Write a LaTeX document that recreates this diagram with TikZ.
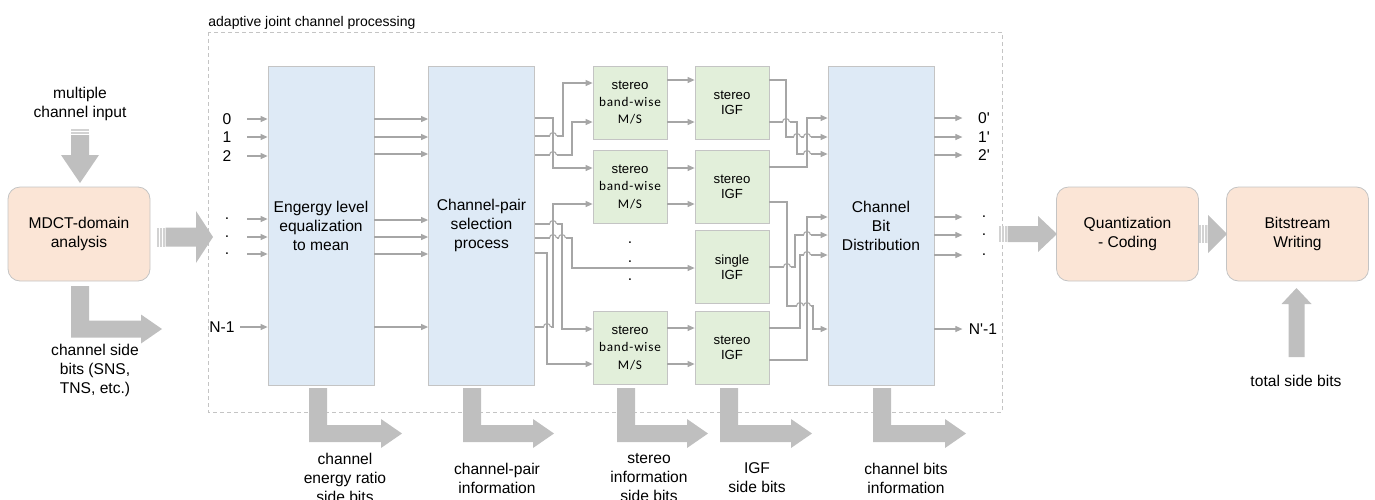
\documentclass[tikz,border=0pt]{standalone}
\usepackage{fontspec}
\setmainfont{Liberation Sans}
\newfontfamily\bandfont[LetterSpace=6]{Carlito}
\usetikzlibrary{arrows.meta}

\definecolor{blockblue}{HTML}{DEEAF6}
\definecolor{blockgreen}{HTML}{E2EFDA}
\definecolor{blockorange}{HTML}{FBE5D6}
\definecolor{rimgray}{HTML}{C4C4C4}
\definecolor{wiregray}{HTML}{A6A6A6}
\definecolor{fatgray}{HTML}{BFBFBF}

\tikzset{
  wire/.style={wiregray, line width=0.55pt, -{Triangle[length=3.5pt, width=3pt]}},
  tallbox/.style={draw=rimgray, fill=blockblue, minimum width=53pt, minimum height=159.5pt, align=center, inner sep=0pt},
  msbox/.style={draw=rimgray, fill=blockgreen, minimum width=37pt, minimum height=36.5pt, align=center, inner sep=0pt, font=\fontsize{6.6}{8.7}\selectfont},
  igfbox/.style={msbox, font=\fontsize{6.6}{7.6}\selectfont},
  stagebox/.style={draw=rimgray, fill=blockorange, rounded corners=6pt, minimum width=71pt, minimum height=47pt, align=center, inner sep=0pt},
  lbl/.style={align=center, inner sep=0pt},
}

% thick L shaped arrow for side bits: x, top, y of horizontal part, tip
\newcommand\bendarrow[4]{%
  \fill[fatgray] (#1,#2) -- (#1+18,#2) -- (#1+18,#3-8.5) -- (#4-21,#3-8.5)
    -- (#4-21,#3-14.5) -- (#4,#3) -- (#4-21,#3+14.5) -- (#4-21,#3+8.5)
    -- (#1,#3+8.5) -- cycle;}
% striped block arrow to the right: start, head, tip, y, shaft half, head half
\newcommand\stripearrow[6]{%
  \foreach \s in {0,3,6}
    \fill[fatgray!70] (#1+\s,#4-#5) rectangle (#1+\s+1.8,#4+#5);
  \fill[fatgray] (#1+8.5,#4-#5) -- (#2,#4-#5) -- (#2,#4-#6) -- (#3,#4)
    -- (#2,#4+#6) -- (#2,#4+#5) -- (#1+8.5,#4+#5) -- cycle;}
% wire hopping over a crossing wire
\newcommand\hop[2]{%
  \fill[white] (#1-3.5,#2-1.5) rectangle (#1+3.5,#2+1.5);
  \draw[wiregray, line width=0.55pt] (#1-3.5,#2) arc[start angle=180, end angle=0, radius=1.75pt];
  \draw[wiregray, line width=0.55pt] (#1,#2-4) -- (#1,#2+4);}

\begin{document}
\begin{tikzpicture}[x=0.5pt, y=-0.5pt, font=\fontsize{7.8}{9.5}\selectfont]
\useasboundingbox (0,0) rectangle (1375,499);

% joint processing frame
\draw[rimgray, dash pattern=on 2pt off 1.5pt, line width=0.5pt] (208,32) rectangle (1002,412);
\node[anchor=base west, inner sep=0pt, font=\fontsize{7}{8.5}\selectfont] (jointlbl) at (208,26) {adaptive joint channel processing};

% blocks
\node[stagebox] (mdct) at (79,234) {MDCT-domain\\analysis};
\node[tallbox] (energy) at (321,225.5) {Engergy level\\equalization\\to mean};
\node[tallbox] (cp) at (481.5,225.5) {Channel-pair\\selection\\process};
\node[msbox] (ms1) at (630,102.5) {stereo\\{\bandfont band-wise}\\{\bandfont M/S}};
\node[msbox] (ms2) at (630,187) {stereo\\{\bandfont band-wise}\\{\bandfont M/S}};
\node[msbox] (ms3) at (630,348) {stereo\\{\bandfont band-wise}\\{\bandfont M/S}};
\node[igfbox] (igf1) at (732,102.5) {stereo\\IGF};
\node[igfbox] (igf2) at (732,187) {stereo\\IGF};
\node[igfbox] (igfs) at (732,267) {single\\IGF};
\node[igfbox] (igf3) at (732,348) {stereo\\IGF};
\node[tallbox] (cbd) at (881,225.5) {Channel\\Bit\\Distribution};
\node[stagebox] (quant) at (1127.5,234) {Quantization\\- Coding};
\node[stagebox] (bits) at (1297.5,234) {Bitstream\\Writing};
\foreach \y [count=\k] in {243,262,280}
  \node[lbl] (msdot\k) at (630,\y) {.};

% channel inputs
\foreach \n/\t/\y in {in0/0/119, in1/1/137, in2/2/156, ind1/./219, ind2/./237, ind3/./254}
  \node[lbl] (\n) at (227,\y) {\t};
\node[lbl] (inN) at (222,327) {N-1};
\foreach \n in {in0,in1,in2,ind1,ind2,ind3}
  \draw[wire] (\n) ++(20,0) -- (energy.west |- \n);
\draw[wire] (inN) ++(18,0) -- (energy.west |- inN);
\foreach \y in {119,137,154,220,237,254,327}
  \draw[wire] (energy.east |- 0,\y) -- (cp.west |- 0,\y);

% pair selection
\draw[wire] (cp.east |- 0,118) -| (553,168) -- (ms2.west |- 0,168);
\draw[wire] (cp.east |- 0,136) -| (563,83) -- (ms1.west |- 0,83);
\draw[wire] (cp.east |- 0,155) -| (572,122) -- (ms1.west |- 0,122);
\draw[wire] (cp.east |- 0,224) -| (562,329) -- (ms3.west |- 0,329);
\draw[wire] (cp.east |- 0,238) -| (572,268) -- (igfs.west |- 0,268);
\draw[wire] (cp.east |- 0,253) -| (547,364) -- (ms3.west |- 0,364);
\draw[wire] (cp.east |- 0,327) -| (553,204) -- (ms2.west |- 0,204);
\foreach \m/\i/\y in {ms1/igf1/80, ms1/igf1/122, ms2/igf2/168, ms2/igf2/204, ms3/igf3/328, ms3/igf3/364}
  \draw[wire] (\m.east |- 0,\y) -- (\i.west |- 0,\y);

% back to channels
\draw[wire] (igf1.east |- 0,80) -| (786,137) -- (cbd.west |- 0,137);
\draw[wire] (igf1.east |- 0,122) -| (797,154) -- (cbd.west |- 0,154);
\draw[wire] (igf2.east |- 0,167) -| (807,118) -- (cbd.west |- 0,118);
\draw[wire] (igf2.east |- 0,202) -| (787,306) -| (813,329) -- (cbd.west |- 0,329);
\draw[wire] (igfs.east |- 0,267) -| (795,235) -- (cbd.west |- 0,235);
\draw[wire] (igf3.east |- 0,328) -| (800,255) -- (cbd.west |- 0,255);
\draw[wire] (igf3.east |- 0,360) -| (807,217) -- (cbd.west |- 0,217);
\foreach \hx/\hy in {553/136, 553/155, 553/224, 553/238, 562/238, 547/327,
    786/122, 797/137, 807/137, 807/154, 787/267, 807/235, 807/255, 800/306, 807/306}
  \hop{\hx}{\hy};

% channel outputs
\foreach \n/\t/\y in {out0/0\textquotesingle/118, out1/1\textquotesingle/137, out2/2\textquotesingle/155, outd1/./217, outd2/./235, outd3/./255}
  \node[lbl] (\n) at (984,\y) {\t};
\node[lbl] (outN) at (983,329) {N\textquotesingle-1};
\foreach \n in {out0,out1,out2,outd1,outd2,outd3,outN}
  \draw[wire] (cbd.east |- \n) -- ++(28,0);

% block arrows
\foreach \s in {0,3}
  \fill[fatgray!70] (71,129+\s) rectangle (89,130.8+\s);
\fill[fatgray] (71,135) -- (89,135) -- (89,155) -- (99,155) -- (80,183) -- (61,155) -- (71,155) -- cycle;
\stripearrow{157}{196}{213}{237}{9.5}{26}
\stripearrow{999}{1038}{1057}{234}{8}{18}
\stripearrow{1199}{1208}{1227}{234}{9}{19}
\fill[fatgray] (1288.5,357) -- (1288.5,304) -- (1281.5,304) -- (1296.5,288) -- (1311.5,304) -- (1304.5,304) -- (1304.5,357) -- cycle;
\bendarrow{71}{286}{329}{162}
\bendarrow{309}{388}{433.5}{402}
\bendarrow{463}{388}{433.5}{554}
\bendarrow{617}{388}{433.5}{708}
\bendarrow{720}{388}{433.5}{812}
\bendarrow{873}{388}{433.5}{966}

% texts
\node[lbl] (inlbl) at (80,104) {multiple\\channel input};
\node[lbl] (sidelbl) at (95,370) {channel side\\bits (SNS,\\TNS, etc.)};
\node[lbl] (erlbl) at (345,478) {channel\\energy ratio\\side bits};
\node[lbl] (cplbl) at (497,478) {channel-pair\\information};
\node[lbl] (stlbl) at (649,478) {stereo\\information\\side bits};
\node[lbl] (igflbl) at (757,478) {IGF\\side bits};
\node[lbl] (cbdlbl) at (906,478) {channel bits\\information};
\node[lbl] (totlbl) at (1296,381) {total side bits};
\end{tikzpicture}
\end{document}
